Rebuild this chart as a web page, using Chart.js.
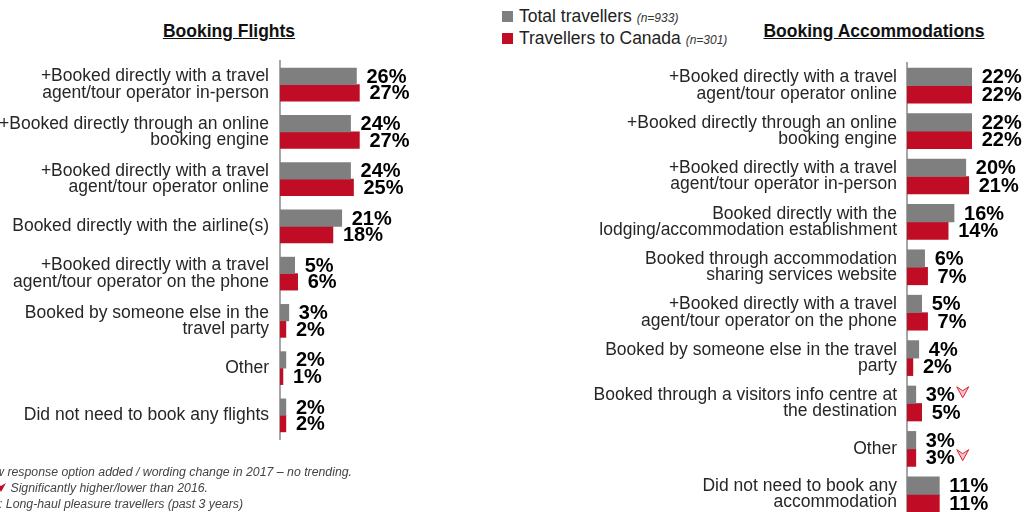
<!DOCTYPE html>
<html>
<head>
<meta charset="utf-8">
<script src="https://cdn.jsdelivr.net/npm/chart.js@4.4.1/dist/chart.umd.min.js"></script>
<style>
  html, body { margin: 0; padding: 0; width: 1026px; height: 512px; overflow: hidden; background: #fff; }
  body { position: relative; font-family: 'Liberation Sans', Arial, sans-serif; color: #262626; }
  canvas { position: absolute; }
  .title { position: absolute; top: 21px; font-size: 17.5px; font-weight: bold; text-decoration: underline; color: #111; white-space: nowrap; transform: translateX(-50%); }
  .legend { position: absolute; left: 502px; font-size: 17.5px; white-space: nowrap; color: #222; }
  .legend i.sw { display: inline-block; width: 11px; height: 11px; margin-right: 6px; vertical-align: 0px; }
  .legend em { font-size: 12px; color: #333; }
  .note { position: absolute; font-size: 12.3px; font-style: italic; color: #444; white-space: nowrap; text-align: right; }
</style>
</head>
<body>
<div class="title" style="left:229px">Booking Flights</div>
<div class="title" style="left:874px">Booking Accommodations</div>

<div class="legend" style="top:6px"><i class="sw" style="background:#7f7f7f"></i>Total travellers <em>(n=933)</em></div>
<div class="legend" style="top:28px"><i class="sw" style="background:#c00c24"></i>Travellers to Canada <em>(n=301)</em></div>

<canvas id="flightsChart" width="427" height="512" style="left:0;top:0"></canvas>
<canvas id="accomChart" width="574" height="560" style="left:480px;top:0"></canvas>

<div class="note" style="right:674px;top:465px">+New response option added / wording change in 2017 – no trending.</div>
<div class="note" style="right:818px;top:481px"><svg width="24" height="11" style="vertical-align:-1px;margin-right:3px"><path d="M1 1 L6 10 L11 1 L6 4 Z" fill="#f3b8bf" stroke="#c00c24" stroke-width="1"/><path d="M13 1 L18 10 L23 1 L18 4 Z" fill="#c00c24"/></svg>Significantly higher/lower than 2016.</div>
<div class="note" style="right:783px;top:497px">Base: Long-haul pleasure travellers (past 3 years)</div>

<script>
// Booking flights
const flightCategories = [
    ['+Booked directly with a travel', 'agent/tour operator in-person'],
    ['+Booked directly through an online', 'booking engine'],
    ['+Booked directly with a travel', 'agent/tour operator online'],
    'Booked directly with the airline(s)',
    ['+Booked directly with a travel', 'agent/tour operator on the phone'],
    ['Booked by someone else in the', 'travel party'],
    'Other',
    'Did not need to book any flights'
];
const flightTotal = [26, 24, 24, 21, 5, 3, 2, 2];
const flightCanada = [27, 27, 25, 18, 6, 2, 1, 2];
const flightTotalSig = [0, 0, 0, 0, 0, 0, 0, 0];
const flightCanadaSig = [0, 0, 0, 0, 0, 0, 0, 0];

// Booking accommodations
const accomCategories = [
    ['+Booked directly with a travel', 'agent/tour operator online'],
    ['+Booked directly through an online', 'booking engine'],
    ['+Booked directly with a travel', 'agent/tour operator in-person'],
    ['Booked directly with the', 'lodging/accommodation establishment'],
    ['Booked through accommodation', 'sharing services website'],
    ['+Booked directly with a travel', 'agent/tour operator on the phone'],
    ['Booked by someone else in the travel', 'party'],
    ['Booked through a visitors info centre at', 'the destination'],
    'Other',
    ['Did not need to book any', 'accommodation']
];
const accomTotal = [22, 22, 20, 16, 6, 5, 4, 3, 3, 11];
const accomCanada = [22, 22, 21, 14, 7, 7, 2, 5, 3, 11];
const accomTotalSig = [0, 0, 0, 0, 0, 0, 0, 1, 0, 0];
const accomCanadaSig = [0, 0, 0, 0, 0, 0, 0, 0, 1, 0];

const seriesNames = ['Total travellers', 'Travellers to Canada'];
const GREY = '#7f7f7f';
const RED = '#c00c24';
const FONT = "'Liberation Sans', Arial, sans-serif";

// value labels + significance markers
const valueLabels = {
    id: 'valueLabels',
    afterDatasetsDraw(chart) {
        const ctx = chart.ctx;
        ctx.save();
        ctx.font = 'bold 20px ' + FONT;
        ctx.fillStyle = '#000';
        ctx.textAlign = 'left';
        ctx.textBaseline = 'middle';
        chart.data.datasets.forEach((ds, di) => {
            const meta = chart.getDatasetMeta(di);
            meta.data.forEach((bar, i) => {
                const txt = ds.data[i] + '%';
                const x = bar.x + 10;
                ctx.fillText(txt, x, bar.y + 1);
                if (ds.sig && ds.sig[i]) {
                    const mx = x + ctx.measureText(txt).width + 2;
                    const my = bar.y - 8;
                    ctx.beginPath();
                    ctx.moveTo(mx, my);
                    ctx.lineTo(mx + 6, my + 11);
                    ctx.lineTo(mx + 12, my);
                    ctx.lineTo(mx + 6, my + 4);
                    ctx.closePath();
                    ctx.fillStyle = '#f6c4ca';
                    ctx.fill();
                    ctx.strokeStyle = '#e0202e';
                    ctx.lineWidth = 1;
                    ctx.stroke();
                    ctx.fillStyle = '#000';
                }
            });
        });
        ctx.restore();
    }
};

function makeChart(id, labels, total, canada, totalSig, canadaSig, axisWidth, thickness, padTop, padBottom, tickPad) {
    return new Chart(document.getElementById(id), {
        type: 'bar',
        data: {
            labels: labels,
            datasets: [
                { label: seriesNames[0], data: total, sig: totalSig, backgroundColor: GREY, barThickness: thickness },
                { label: seriesNames[1], data: canada, sig: canadaSig, backgroundColor: RED, barThickness: thickness }
            ]
        },
        options: {
            indexAxis: 'y',
            responsive: false,
            animation: false,
            layout: { padding: { top: padTop, bottom: padBottom, left: 0, right: 0 } },
            plugins: { legend: { display: false }, tooltip: { enabled: false } },
            scales: {
                x: { display: false, min: 0, max: 50 },
                y: {
                    grid: { display: false, drawTicks: false },
                    border: { display: true, color: '#a6a6a6', width: 2 },
                    ticks: { padding: tickPad, color: '#262626', font: { family: FONT, size: 17.5, lineHeight: 0.93 } },
                    afterFit: scale => { scale.width = axisWidth; }
                }
            }
        },
        plugins: [valueLabels]
    });
}

makeChart('flightsChart', flightCategories, flightTotal, flightCanada, flightTotalSig, flightCanadaSig, 280, 16.5, 61, 73, 11);
makeChart('accomChart', accomCategories, accomTotal, accomCanada, accomTotalSig, accomCanadaSig, 427, 17.5, 63, 43, 10);
</script>
</body>
</html>
